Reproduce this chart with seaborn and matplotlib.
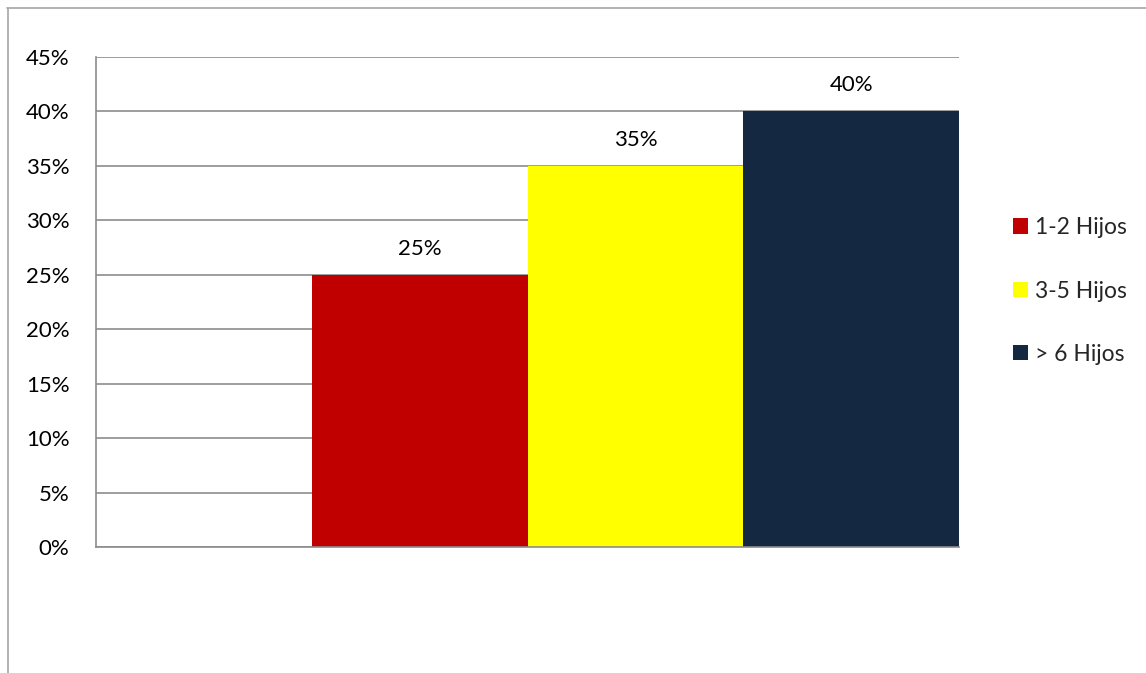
import matplotlib
matplotlib.use("Agg")
import matplotlib.pyplot as plt
from matplotlib.lines import Line2D
from matplotlib.patches import Patch
from matplotlib.ticker import FuncFormatter, MultipleLocator
import pandas as pd
import seaborn as sns

# Share of families by number of children
slots = [" ", "1-2 Hijos", "3-5 Hijos", "> 6 Hijos"]
categories = ["1-2 Hijos", "3-5 Hijos", "> 6 Hijos"]
values = [0.25, 0.35, 0.40]
labels = ["25%", "35%", "40%"]
colors = ["#C00000", "#FFFF00", "#142841"]

sns.set_theme(style="white")
plt.rcParams["font.family"] = ["Lato", "DejaVu Sans"]

df = pd.DataFrame({"grupo": categories, "valor": values})

fig = plt.figure(figsize=(11.46, 6.73), dpi=100)
ax = fig.add_axes([96 / 1146, 1 - 547 / 673, (959 - 96) / 1146, (547 - 57) / 673])

sns.barplot(data=df, x="grupo", y="valor", hue="grupo", order=slots,
            hue_order=categories, palette=colors, width=1.0, dodge=False,
            legend=False, ax=ax, saturation=1, linewidth=0)

ax.set_xlim(-0.5, 3.5)
ax.set_ylim(0, 0.45)
ax.yaxis.set_major_locator(MultipleLocator(0.05))
ax.yaxis.set_major_formatter(FuncFormatter(lambda v, _: f"{v * 100:.0f}%"))
ax.set_xticks([])
ax.set_xlabel("")
ax.set_ylabel("")
ax.tick_params(axis="y", labelsize=16, colors="black", length=0, pad=19)
ax.yaxis.grid(True, color="#8C8C8C", linewidth=1.2)
ax.set_axisbelow(True)

for side in ("top", "right"):
    ax.spines[side].set_visible(False)
for side in ("left", "bottom"):
    ax.spines[side].set_color("#8C8C8C")
    ax.spines[side].set_linewidth(1.2)

for pos, v, t in zip(range(1, 4), values, labels):
    ax.text(pos, v + 0.024, t, ha="center", va="center", fontsize=16, color="black")

handles = [Patch(facecolor=c, edgecolor="none", label=n) for c, n in zip(colors, categories)]
fig.legend(handles=handles, loc="center left", bbox_to_anchor=(1004 / 1146, 1 - 291 / 673),
           frameon=False, fontsize=16.5, handlelength=0.65, handleheight=0.65,
           handletextpad=0.3, labelspacing=1.85, borderaxespad=0)

# Chart frame (top and left edges)
fig.add_artist(Line2D([7 / 1146, 1], [1 - 8 / 673, 1 - 8 / 673], color="#A6A6A6",
                      linewidth=1.2, transform=fig.transFigure))
fig.add_artist(Line2D([7.5 / 1146, 7.5 / 1146], [0, 1 - 8 / 673], color="#A6A6A6",
                      linewidth=1.2, transform=fig.transFigure))

fig.savefig("out.png", dpi=100, facecolor="white")
